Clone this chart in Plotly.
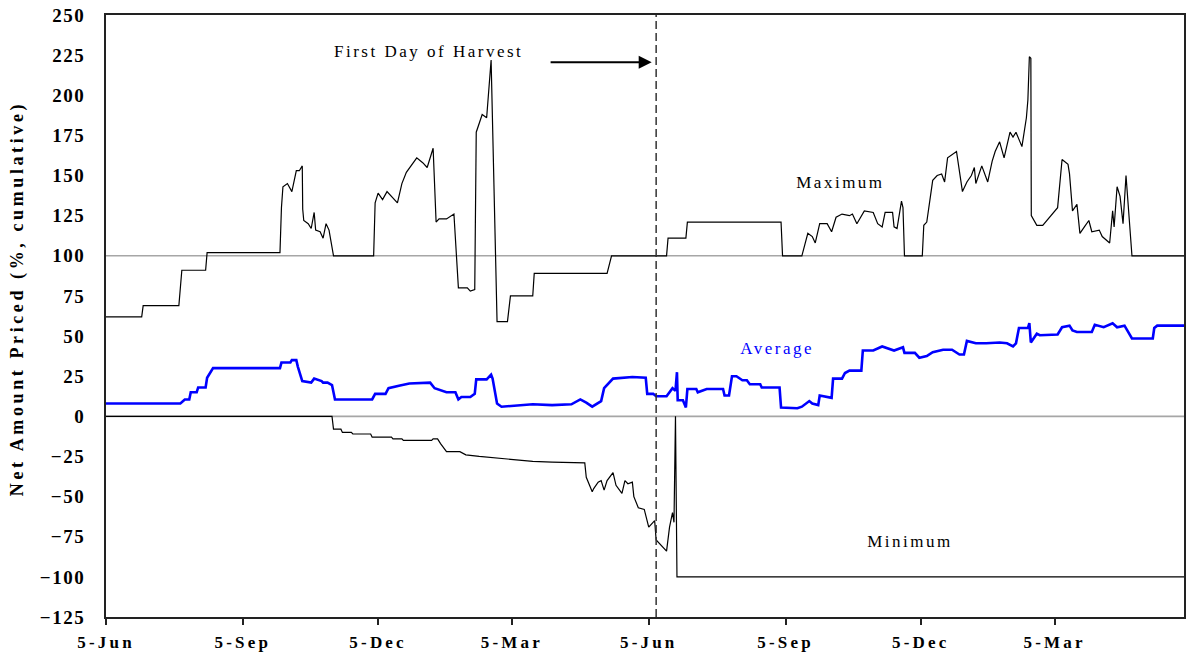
import pandas as pd
import plotly.graph_objects as go

START = "2005-06-05"
END = "2007-05-31"
HARVEST = "2006-06-10"

tick_dates = ["2005-06-05", "2005-09-05", "2005-12-05", "2006-03-05",
              "2006-06-05", "2006-09-05", "2006-12-05", "2007-03-05"]
tick_labels = ["5-Jun", "5-Sep", "5-Dec", "5-Mar", "5-Jun", "5-Sep", "5-Dec", "5-Mar"]
y_ticks = [250, 225, 200, 175, 150, 125, 100, 75, 50, 25, 0, -25, -50, -75, -100, -125]

# days since 5-Jun (first year) and values
max_days = [0, 24, 25, 49, 51, 67, 68, 117, 118, 119, 122, 125, 128, 130, 132, 132.3, 133, 136, 138, 140,
            141, 144, 146, 148, 150, 153, 180, 181, 183, 186, 189, 192, 196, 199, 202, 209, 213, 216,
            218, 220, 222, 224, 229, 234, 237, 243, 245, 248, 249, 253, 256, 259, 263, 270, 272, 287,
            288, 337, 340, 377, 378, 390, 391, 454, 455, 468, 472, 475, 477, 480, 485, 488, 491, 495,
            500, 502, 505, 510, 516, 519, 522, 524, 529, 530, 532, 535, 536, 537, 549, 550, 552, 556,
            559, 562, 564, 566, 572, 576, 579, 582, 584, 585, 589, 593, 596, 598, 601, 604, 608, 610,
            612, 616, 619, 620, 621, 622, 622.3, 626, 630, 636, 640, 643, 647, 648, 650, 653, 655, 658,
            661, 663, 668, 670, 675, 677, 678, 680, 682, 684, 686, 690, 725]
max_vals = [62, 62, 69, 69, 91, 91, 102, 102, 130, 143, 145, 140, 153, 153, 156, 129, 122, 120, 117, 127,
            116, 115, 111, 120, 116, 100, 100, 133, 139, 135, 140, 137, 133, 145, 152, 161, 158, 155,
            161, 167, 121, 123, 123, 126, 80, 80, 78, 79, 177, 188, 186, 222, 59, 59, 75, 75,
            89, 89, 100, 100, 111, 111, 121, 121, 100, 100, 114, 112, 108, 120, 120, 115, 124, 126,
            125, 126, 120, 128, 127, 120, 118, 127, 127, 118, 117, 134, 130, 100, 100, 119, 121, 147,
            150, 151, 146, 161, 165, 140, 146, 150, 155, 145, 156, 146, 159, 165, 171, 161, 177, 174,
            177, 168, 186, 197, 224, 223, 125, 119, 119, 126, 130, 160, 157, 151, 128, 132, 114, 118,
            122, 115, 116, 112, 108, 128, 118, 143, 137, 120, 150, 100, 100]

avg_days = [0, 50, 53, 56, 57, 61, 62, 67, 68, 70, 72, 117, 118, 124, 125, 128, 129, 132, 138, 140,
            145, 146, 149, 152, 154, 179, 181, 188, 190, 197, 204, 218, 221, 229, 235, 237, 239, 245,
            248, 249, 256, 259, 260, 263, 266, 287, 300, 313, 319, 323, 327, 333, 335, 341, 354, 363,
            364, 368, 370, 377, 381, 383, 384, 384.5, 388, 390, 391, 397, 398, 404, 415, 416, 419, 421,
            424, 428, 431, 433, 440, 441, 453, 454, 465, 468, 473, 475, 479, 480, 485, 488, 489, 495,
            497, 500, 508, 509, 516, 522, 530, 536, 537, 544, 547, 552, 556, 563, 569, 574, 577, 579,
            585, 592, 601, 606, 610, 612, 614, 620, 621, 622, 626, 628, 640, 643, 648, 650, 653, 663,
            665, 671, 677, 680, 685, 687, 690, 704, 705, 707, 725]
avg_vals = [8, 8, 10.5, 10.5, 15, 15, 18, 18, 24, 27, 30, 30, 33.5, 33.5, 35, 35, 31, 22, 21, 23.5,
            22, 21, 21, 19.5, 10.5, 10.5, 14, 14, 17.5, 19, 20.5, 21, 17.5, 15, 15, 10.5, 12, 12,
            14, 23, 23, 26, 23.5, 8, 6, 7.5, 7, 7.5, 10.5, 8.5, 6, 9.5, 17.5, 23.5, 24.5, 24,
            14, 14, 12.5, 12.5, 17.5, 16, 27.5, 10, 10, 5.5, 17, 17, 15, 17, 17, 13, 13, 25,
            25, 22.5, 22.5, 20, 20, 18, 18, 5.5, 5, 6, 9.5, 8, 7, 13, 12, 11.5, 23.5, 23.5,
            27, 28.5, 28.5, 41, 41, 43.5, 41, 43, 39.5, 39.5, 36.5, 37.5, 40, 41.5, 41.5, 38.5, 38.5, 47,
            45.5, 45.5, 46, 45.5, 43.5, 45.5, 55, 55, 58, 46, 51.5, 50.5, 51, 55.5, 56.5, 53.5, 52.5, 52.5,
            57, 55.5, 58, 55.5, 56.5, 53.5, 48.5, 48.5, 55, 56.5, 56.5]

min_days = [0, 152, 153, 158, 159, 165, 166, 178, 179, 192, 193, 199, 200, 219, 220, 223, 225, 229,
            238, 242, 251, 262, 273, 287, 300, 314, 322, 323, 327, 328, 331, 333, 335, 337, 341, 343,
            347, 349, 351, 354, 355, 358, 362, 365, 367, 369, 370, 374, 377, 379, 381, 382, 383, 384,
            725]
min_vals = [0, 0, -8, -8, -10, -10, -11, -11, -13, -13, -14, -14, -15, -15, -14, -14, -17, -22,
            -22, -24, -25, -26, -27, -28, -28.5, -29, -29, -38, -47, -45, -41, -40, -46, -40, -35, -43,
            -48, -40, -42, -41, -50, -57, -58, -69, -67, -65, -77, -81, -84, -69, -60, -66, 0, -100,
            -100]


def to_dates(days):
    return pd.Timestamp(START) + pd.to_timedelta(pd.Series(days, dtype=float), unit="D")


SERIF = "Liberation Serif, Times New Roman, serif"

fig = go.Figure()
fig.add_trace(go.Scatter(x=to_dates(max_days), y=max_vals, mode="lines",
                         line=dict(color="black", width=1.2), name="Maximum"))
fig.add_trace(go.Scatter(x=to_dates(min_days), y=min_vals, mode="lines",
                         line=dict(color="black", width=1.2), name="Minimum"))
fig.add_trace(go.Scatter(x=to_dates(avg_days), y=avg_vals, mode="lines",
                         line=dict(color="#0000ff", width=2.6), name="Average"))

# reference lines
for yv in (0, 100):
    fig.add_shape(type="line", xref="paper", x0=0, x1=1, yref="y", y0=yv, y1=yv,
                  line=dict(color="#a6a6a6", width=1.6), layer="below")

fig.add_shape(type="line", xref="x", x0=HARVEST, x1=HARVEST, yref="paper", y0=0, y1=1,
              line=dict(color="#333333", width=1.5, dash="8px,4px"))

fig.add_annotation(x="2006-06-07", y=220.5, ax="2006-03-30", ay=220.5, axref="x", ayref="y",
                   showarrow=True, arrowhead=2, arrowsize=1.3, arrowwidth=2, arrowcolor="black",
                   text="")
fig.add_annotation(x="2006-01-08", y=227, text="First Day of Harvest", showarrow=False,
                   font=dict(family=SERIF, size=17, color="black"))
fig.add_annotation(x="2006-10-12", y=145.5, text="Maximum", showarrow=False,
                   font=dict(family=SERIF, size=17, color="black"))
fig.add_annotation(x="2006-08-30", y=42, text="Average", showarrow=False,
                   font=dict(family=SERIF, size=17, color="#0000ff"))
fig.add_annotation(x="2006-11-28", y=-78, text="Minimum", showarrow=False,
                   font=dict(family=SERIF, size=17, color="black"))
# y-axis title (placed as rotated text, slightly above the plot centre like the reference)
fig.add_annotation(xref="paper", yref="paper", x=-0.082, y=0.528, xanchor="center", yanchor="middle",
                   text="Net Amount Priced (%, cumulative)", textangle=-90, showarrow=False,
                   font=dict(family=SERIF, size=18, color="black", weight="bold"))

fig.update_layout(
    width=1190, height=658,
    margin=dict(l=106, r=6, t=15, b=41),
    paper_bgcolor="white", plot_bgcolor="white",
    showlegend=False,
    xaxis=dict(type="date", range=[START, END], tickvals=tick_dates, ticktext=tick_labels,
               showgrid=False, zeroline=False, showline=True, linecolor="#222222", linewidth=2,
               mirror=True, ticks="outside", ticklen=6, tickwidth=1.5, tickcolor="#222222",
               tickfont=dict(family=SERIF, size=17, color="black", weight="bold"),
               ticklabelstandoff=3, automargin=False),
    yaxis=dict(range=[-125, 250], tickvals=y_ticks, showgrid=False, zeroline=False,
               showline=True, linecolor="#222222", linewidth=2, mirror=True, ticks="",
               tickfont=dict(family=SERIF, size=19, color="black", weight="bold"),
               ticklabelstandoff=15, automargin=False),
)

post = """
document.body.style.margin = '0';
var s = document.createElement('style');
s.innerHTML = '.xtick text{letter-spacing:3.2px} .ytick text{letter-spacing:1.5px} .annotation-text{letter-spacing:2.5px}';
document.head.appendChild(s);
document.querySelectorAll('.annotation-text').forEach(function(t){
  if (t.textContent.indexOf('Net Amount') === 0) { t.style.letterSpacing = '3.6px'; }
});
"""
fig.write_html("out.html", post_script=post, config={"displayModeBar": False})
